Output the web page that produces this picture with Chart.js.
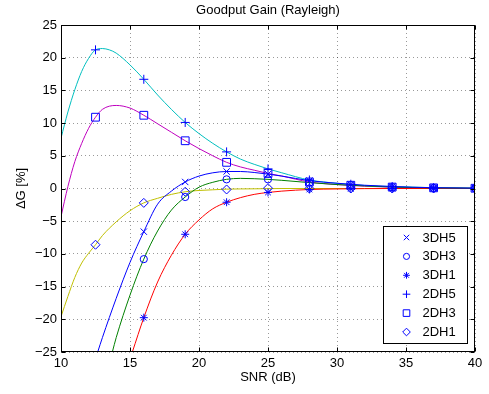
<!DOCTYPE html>
<html>
<head>
<meta charset="utf-8">
<script src="https://cdn.jsdelivr.net/npm/chart.js@4.4.0/dist/chart.umd.min.js"></script>
<style>
  html, body { margin: 0; padding: 0; background: #fff; }
</style>
</head>
<body>
<canvas id="grafico" width="489" height="394"></canvas>
<script>
// SNR values where the markers are put
const snrMarks = [12.5, 16, 19, 22, 25, 28, 31, 34, 37, 40];

const marks3DH5 = [null, -6.6, 1.0, 2.6, 2.2, 1.2, 0.6, 0.3, 0.12, 0.05];
const marks3DH3 = [null, -10.8, -1.3, 1.4, 1.4, 0.9, 0.5, 0.22, 0.1, 0.04];
const marks3DH1 = [null, -19.75, -7.0, -2.1, -0.6, -0.15, -0.05, 0, 0, 0];
const marks2DH5 = [21.2, 16.7, 10.1, 5.6, 3.0, 1.3, 0.65, 0.3, 0.12, 0.05];
const marks2DH3 = [10.9, 11.2, 7.3, 4.0, 2.3, 1.0, 0.5, 0.22, 0.1, 0.04];
const marks2DH1 = [-8.6, -2.2, -0.5, -0.15, 0.05, 0, 0, 0, 0, 0];

// smooth curves
const snr3DH5 = [12.66, 13, 14, 15, 16, 17, 18, 19, 20, 21, 22, 23, 24, 25, 26, 28, 30, 32, 34, 37, 40];
const val3DH5 = [-25, -22.8, -16.8, -11.3, -6.6, -2.4, -0.4, 1.0, 1.9, 2.4, 2.6, 2.6, 2.45, 2.2, 1.9, 1.2, 0.8, 0.5, 0.3, 0.12, 0.05];

const snr3DH3 = [13.72, 14, 15, 16, 17, 18, 19, 20, 21, 22, 23, 24, 25, 26, 28, 30, 32, 34, 37, 40];
const val3DH3 = [-25, -22.8, -16.3, -10.8, -6.5, -3.3, -1.3, 0.2, 0.95, 1.4, 1.55, 1.5, 1.4, 1.25, 0.9, 0.6, 0.4, 0.22, 0.1, 0.04];

const snr3DH1 = [15.17, 16, 17, 18, 19, 20, 21, 22, 23, 24, 25, 26, 28, 30, 34, 40];
const val3DH1 = [-25, -19.75, -14.3, -10.2, -7.0, -4.8, -3.1, -2.1, -1.4, -0.9, -0.6, -0.4, -0.15, -0.07, 0, 0];

const snr2DH5 = [10, 10.5, 11, 11.5, 12, 12.5, 13, 13.5, 14, 15, 16, 17, 18, 19, 20, 21, 22, 23, 24, 25, 26, 28, 30, 32, 34, 37, 40];
const val2DH5 = [7.7, 11.7, 15.1, 17.9, 19.9, 21.2, 21.4, 21.2, 20.7, 18.9, 16.7, 14.3, 12.1, 10.1, 8.4, 6.9, 5.6, 4.5, 3.7, 3.0, 2.4, 1.3, 0.8, 0.45, 0.3, 0.12, 0.05];

const snr2DH3 = [10, 10.5, 11, 11.5, 12, 12.5, 13, 14, 15, 16, 17, 18, 19, 20, 21, 22, 23, 24, 25, 26, 28, 30, 32, 34, 37, 40];
const val2DH3 = [-4.3, 0.3, 4.1, 6.9, 9.2, 10.9, 12.1, 12.7, 12.3, 11.2, 9.9, 8.6, 7.3, 6.1, 5.0, 4.0, 3.3, 2.8, 2.3, 1.9, 1.0, 0.6, 0.35, 0.2, 0.1, 0.04];

const snr2DH1 = [10, 10.5, 11, 11.5, 12, 12.5, 13, 14, 15, 16, 17, 18, 19, 20, 21, 22, 24, 26, 28, 32, 40];
const val2DH1 = [-19.6, -16.5, -13.6, -11.4, -9.9, -8.6, -7.2, -5.1, -3.4, -2.2, -1.5, -0.9, -0.5, -0.3, -0.2, -0.1, -0.05, 0, 0, 0, 0];

const xTicks = [10, 15, 20, 25, 30, 35, 40];
const yTicks = [-25, -20, -15, -10, -5, 0, 5, 10, 15, 20, 25];

const serie = [
  {nome: "3DH5", snr: snr3DH5, val: val3DH5, marks: marks3DH5, colore: "#0000ff", stile: "crossRot", r: 4.5},
  {nome: "3DH3", snr: snr3DH3, val: val3DH3, marks: marks3DH3, colore: "#008000", stile: "circle", r: 3.6},
  {nome: "3DH1", snr: snr3DH1, val: val3DH1, marks: marks3DH1, colore: "#ff0000", stile: "star", r: 4},
  {nome: "2DH5", snr: snr2DH5, val: val2DH5, marks: marks2DH5, colore: "#00bfbf", stile: "cross", r: 4.5},
  {nome: "2DH3", snr: snr2DH3, val: val2DH3, marks: marks2DH3, colore: "#bf00bf", stile: "rect", r: 5.5},
  {nome: "2DH1", snr: snr2DH1, val: val2DH1, marks: marks2DH1, colore: "#bfbf00", stile: "rectRot", r: 4.5}
];

const BLU = "#0000ff";

function costruisciDatasets(){
  let ds = [];
  // markers first so they are drawn on top
  for (const s of serie){
    ds.push({
      label: s.nome,
      data: snrMarks.map((x, i) => ({x: x, y: s.marks[i]})).filter(p => p.y !== null),
      showLine: false,
      pointStyle: s.stile,
      pointRadius: s.r,
      pointBorderWidth: 1,
      pointBorderColor: BLU,
      pointBackgroundColor: "rgba(0,0,0,0)",
      order: 0
    });
  }
  for (const s of serie){
    ds.push({
      label: s.nome + "_linea",
      data: s.snr.map((x, i) => ({x: x, y: s.val[i]})),
      borderColor: s.colore,
      borderWidth: 1,
      pointRadius: 0,
      cubicInterpolationMode: "monotone",
      order: 1
    });
  }
  return ds;
}

// frame, inward ticks and the legend box
const cornice = {
  id: "cornice",
  afterDraw(chart){
    const ctx = chart.ctx;
    const a = chart.chartArea;
    const sx = chart.scales.x, sy = chart.scales.y;
    const L = Math.round(a.left) + 0.5, R = Math.round(a.right) - 0.5;
    const T = Math.round(a.top) + 0.5, B = Math.round(a.bottom) - 0.5;
    ctx.save();
    ctx.strokeStyle = "#000";
    ctx.lineWidth = 1;
    ctx.beginPath();
    for (const v of xTicks){
      const px = Math.round(sx.getPixelForValue(v)) + 0.5;
      ctx.moveTo(px, B); ctx.lineTo(px, B - 4);
      ctx.moveTo(px, T); ctx.lineTo(px, T + 4);
    }
    for (const v of yTicks){
      const py = Math.round(sy.getPixelForValue(v)) + 0.5;
      ctx.moveTo(L, py); ctx.lineTo(L + 4, py);
      ctx.moveTo(R, py); ctx.lineTo(R - 4, py);
    }
    ctx.stroke();
    ctx.strokeRect(L, T, R - L, B - T);

    // legend
    const bx = 383.5, by = 226.5, bw = 84, bh = 117;
    ctx.fillStyle = "#fff";
    ctx.fillRect(bx, by, bw, bh);
    ctx.strokeRect(bx, by, bw, bh);
    ctx.font = "13px 'Liberation Sans', Arial, sans-serif";
    ctx.textBaseline = "middle";
    ctx.textAlign = "left";
    serie.forEach((s, i) => {
      const y = 237.5 + i * 18.9;
      ctx.strokeStyle = BLU;
      ctx.fillStyle = "rgba(0,0,0,0)";
      ctx.lineWidth = 1;
      Chart.helpers.drawPoint(ctx, {pointStyle: s.stile, radius: s.r * 0.85, borderWidth: 1, rotation: 0}, 406.5, y);
      ctx.fillStyle = "#000";
      ctx.fillText(s.nome, 422.5, y + 0.5);
    });
    ctx.restore();
  }
};

const FONT = "'Liberation Sans', Arial, sans-serif";
Chart.defaults.font.family = FONT;
Chart.defaults.font.size = 13;
Chart.defaults.color = "#000";

function meno(v){
  return String(v).replace("-", "\u2212");
}

let grafico = new Chart(document.getElementById("grafico"), {
  type: "line",
  data: { datasets: costruisciDatasets() },
  plugins: [cornice],
  options: {
    responsive: false,
    animation: false,
    layout: { padding: { left: 0, right: 14, top: 0, bottom: 0 } },
    plugins: {
      legend: { display: false },
      tooltip: { enabled: false },
      title: {
        display: true,
        text: "Goodput Gain (Rayleigh)",
        fullSize: false,
        color: "#000",
        font: { size: 13, weight: "normal", family: FONT },
        padding: { top: 3, bottom: 6.4 }
      }
    },
    scales: {
      x: {
        type: "linear",
        min: 10,
        max: 40,
        afterFit(s){ s.height = 42; },
        afterBuildTicks(s){ s.ticks = xTicks.map(v => ({value: v})); },
        ticks: { padding: 4, color: "#000", font: { size: 13 } },
        grid: { color: "rgba(0,0,0,0.4)", lineWidth: 1, drawTicks: false },
        border: { display: false, dash: [1, 3] },
        title: { display: true, text: "SNR (dB)", color: "#000", font: { size: 13 }, padding: 9 }
      },
      y: {
        type: "linear",
        min: -25,
        max: 25,
        afterFit(s){ s.width = 61; },
        afterBuildTicks(s){ s.ticks = yTicks.map(v => ({value: v})); },
        ticks: { padding: 4, color: "#000", font: { size: 13 }, callback: v => meno(v) },
        grid: { color: "rgba(0,0,0,0.4)", lineWidth: 1, drawTicks: false },
        border: { display: false, dash: [1, 3] },
        title: { display: true, text: "\u0394G [%]", color: "#000", font: { size: 13 }, padding: 14 }
      }
    }
  }
});
</script>
</body>
</html>
